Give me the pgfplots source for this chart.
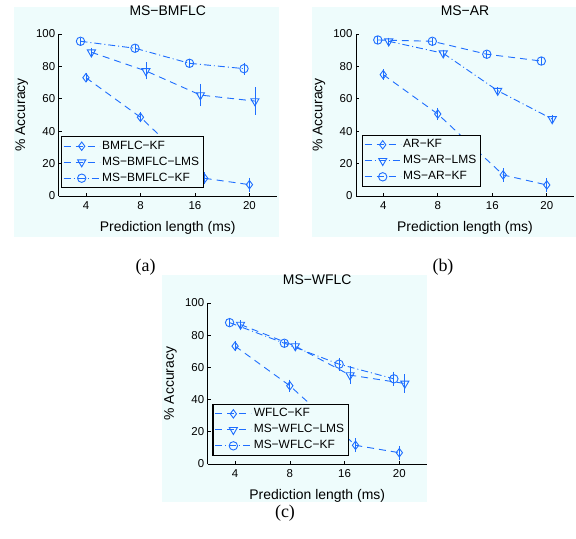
\documentclass[border=0pt]{standalone}
\usepackage{fontspec}
\setmainfont{Liberation Sans}
\newfontfamily\capfont{Liberation Serif}
\usepackage{pgfplots}
\usepackage{pgfplotstable}
\pgfplotsset{compat=1.18}

\definecolor{panelbg}{RGB}{238,252,252}
\definecolor{mblue}{RGB}{30,110,255}

% panel (a)
\pgfplotstableread{
x y e
1 73.0 1.5
2 48.6 2.0
3.18 10.9 2.5
4 7.0 3.0
}\akf
\pgfplotstableread{
x y e
1.1 88.7 1.5
2.1 77.2 4.0
3.1 62.3 5.7
4.1 58.6 7.2
}\alms
\pgfplotstableread{
x y e
0.9 95.5 1.0
1.9 91.2 1.2
2.9 81.9 1.5
3.9 78.6 2.5
}\amskf
% panel (b)
\pgfplotstableread{
x y e
1 74.9 2.0
2 50.6 2.5
3.2 13.0 3.0
4 6.8 3.0
}\bkf
\pgfplotstableread{
x y e
1.1 95.5 1.0
2.1 88.1 1.0
3.1 65.0 1.0
4.1 47.5 1.5
}\blms
\pgfplotstableread{
x y e
0.9 96.3 1.0
1.9 95.5 1.0
2.9 87.5 1.0
3.9 83.3 1.0
}\bmskf
% panel (c)
\pgfplotstableread{
x y e
1 73.2 2.0
2 48.6 2.5
3.2 11.6 3.0
4 7.0 3.0
}\ckf
\pgfplotstableread{
x y e
1.1 86.6 1.5
2.1 73.2 2.0
3.1 55.2 4.4
4.1 50.0 4.5
}\clms
\pgfplotstableread{
x y e
0.9 87.8 1.0
1.9 75.0 1.0
2.9 62.0 2.7
3.9 52.9 3.3
}\cmskf

\pgfplotsset{
  panel/.style={
    scale only axis, width=218bp, height=162bp,
    xmin=0.5, xmax=4.5, ymin=0, ymax=100,
    axis lines=left, axis line style={-, black, line width=0.6bp},
    xtick={1,2,3,4}, xticklabels={4,8,16,20},
    ytick={0,20,...,100},
    tick align=inside, major tick length=3bp,
    tick style={black, line width=0.6bp},
    /pgf/number format/assume math mode=true,
    tick label style={font=\fontsize{11.5}{13}\selectfont},
    xticklabel style={yshift=-2bp},
    label style={font=\fontsize{14}{16}\selectfont},
    title style={font=\fontsize{14}{16}\selectfont,
      at={(axis description cs:0.5,1.105)}, anchor=center},
    xlabel style={at={(axis description cs:0.5,-0.195)}, anchor=center},
    ylabel style={at={(axis description cs:-0.17,0.5)}, anchor=center},
    xlabel={Prediction length (ms)}, ylabel={\% Accuracy},
    legend cell align=left,
    legend style={draw=black, line width=1.2bp, fill=panelbg, anchor=south west,
      font=\fontsize{12}{13}\selectfont, inner xsep=2bp, inner ysep=2bp,
      nodes={inner sep=2bp, text height=8.5bp, text depth=2.5bp}, row sep=1bp},
    legend image code/.code={%
      \draw[mark repeat=2,mark phase=2,#1] plot coordinates {(0bp,0bp)(18bp,0bp)(36bp,0bp)};},
  },
  ser/.style={mblue, line width=0.9bp,
    error bars/y dir=both, error bars/y explicit,
    error bars/error bar style={solid, line width=0.8bp},
    error bars/error mark options={solid, mark size=2bp, line width=0.8bp}},
  dsh/.style={dash pattern=on 7bp off 5bp},
  dd/.style={dash pattern=on 7bp off 3bp on 1bp off 3bp},
  diam/.style={mark=diamond, mark size=4.2bp, mark options={solid}},
  tri/.style={mark=triangle, mark size=4.7bp, mark options={solid, rotate=180}},
  circ/.style={mark=o, mark size=4.2bp, mark options={solid}},
}

\begin{document}
\begin{tikzpicture}[x=1bp,y=1bp]
\path[use as bounding box] (0,0) rectangle (576,539);
\fill[panelbg] (14,302) rectangle (279,532);
\fill[panelbg] (312,302) rectangle (576,532);
\fill[panelbg] (162,37) rectangle (427,264);

\begin{axis}[panel, at={(58.7bp,343bp)}, anchor=south west, title={MS−BMFLC},
  legend style={at={(axis description cs:0.009,0.0475)}}]
\addplot[ser, dsh, diam] table[x=x, y=y, y error=e] {\akf};
\addlegendentry{BMFLC−KF}
\addplot[ser, dsh, tri] table[x=x, y=y, y error=e] {\alms};
\addlegendentry{MS−BMFLC−LMS}
\addplot[ser, dd, circ] table[x=x, y=y, y error=e] {\amskf};
\addlegendentry{MS−BMFLC−KF}
\end{axis}

\begin{axis}[panel, at={(356bp,343bp)}, anchor=south west, title={MS−AR},
  legend style={at={(axis description cs:0.026,0.056)}}]
\addplot[ser, dsh, diam] table[x=x, y=y, y error=e] {\bkf};
\addlegendentry{AR−KF}
\addplot[ser, dd, tri] table[x=x, y=y, y error=e] {\blms};
\addlegendentry{MS−AR−LMS}
\addplot[ser, dsh, circ] table[x=x, y=y, y error=e] {\bmskf};
\addlegendentry{MS−AR−KF}
\end{axis}

\begin{axis}[panel, width=219bp, height=161bp, at={(207.7bp,75bp)}, anchor=south west, title={MS−WFLC},
  legend style={at={(axis description cs:0.021,0.05)}}]
\addplot[ser, dsh, diam] table[x=x, y=y, y error=e] {\ckf};
\addlegendentry{WFLC−KF}
\addplot[ser, dsh, tri] table[x=x, y=y, y error=e] {\clms};
\addlegendentry{MS−WFLC−LMS}
\addplot[ser, dd, circ] table[x=x, y=y, y error=e] {\cmskf};
\addlegendentry{MS−WFLC−KF}
\end{axis}

\node[font=\capfont\fontsize{18}{20}\selectfont] at (145.6,272) {(a)};
\node[font=\capfont\fontsize{18}{20}\selectfont] at (443,272) {(b)};
\node[font=\capfont\fontsize{18}{20}\selectfont] at (285,26) {(c)};
\end{tikzpicture}
\end{document}
